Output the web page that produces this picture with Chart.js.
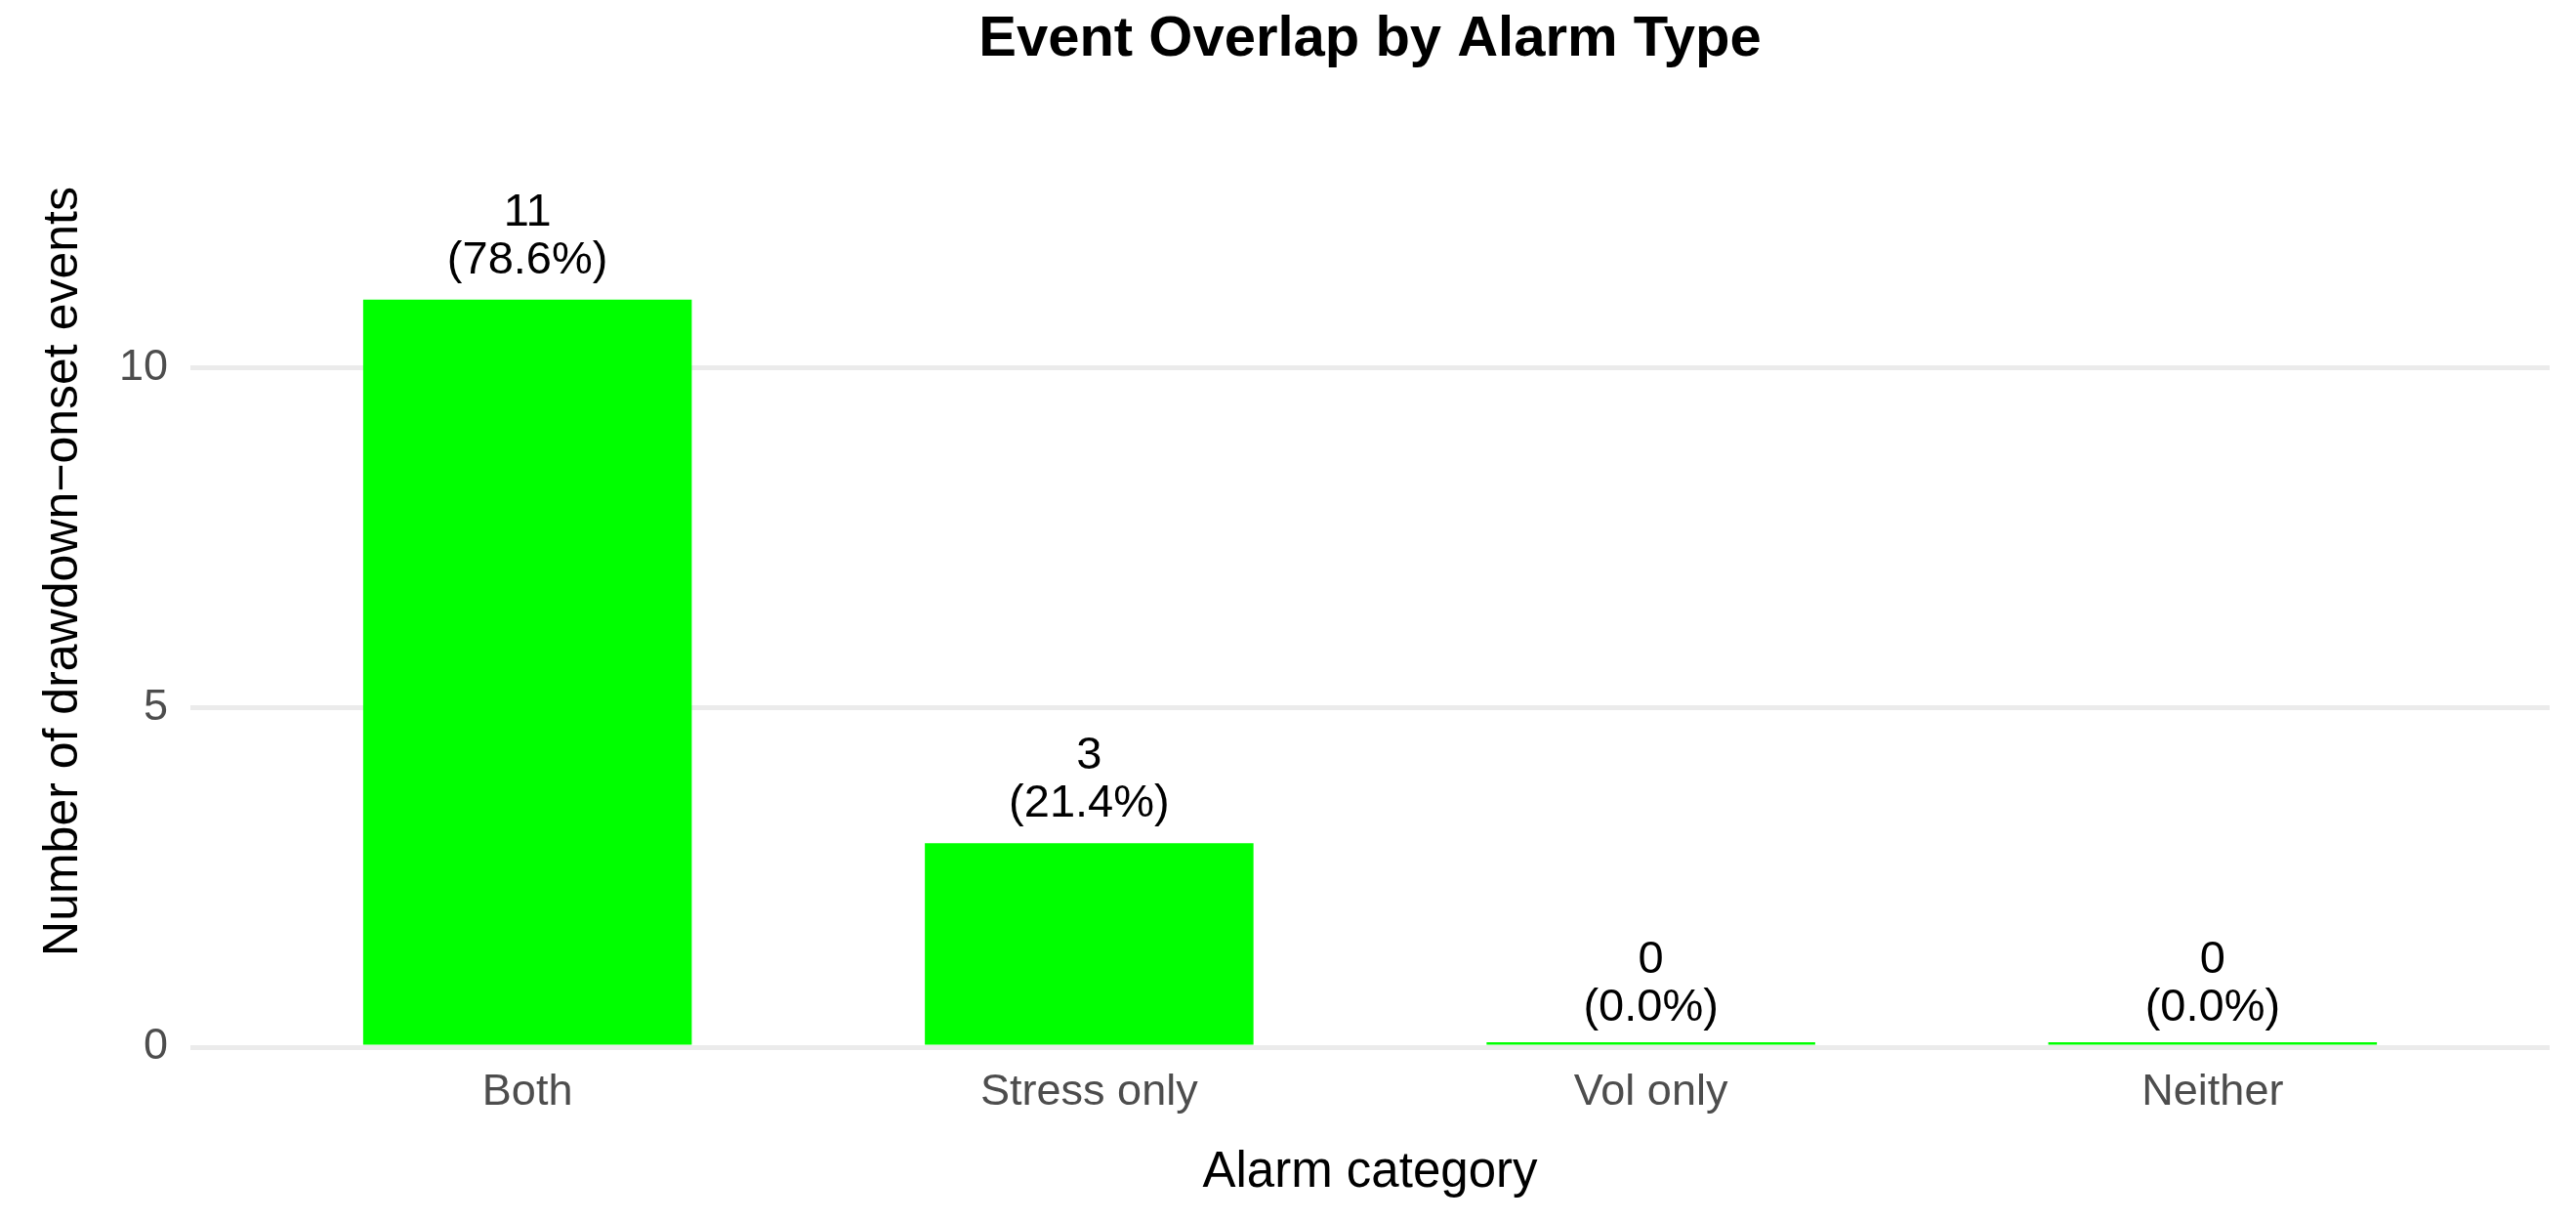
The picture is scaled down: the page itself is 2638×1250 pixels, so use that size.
<!DOCTYPE html>
<html>
<head>
<meta charset="utf-8">
<script src="https://cdn.jsdelivr.net/npm/chart.js@4.4.1/dist/chart.umd.min.js"></script>
<style>
  html, body { margin: 0; padding: 0; background: #ffffff; }
  #wrap { width: 2638px; height: 1250px; }
</style>
</head>
<body>
<div id="wrap"><canvas id="c" width="2638" height="1250"></canvas></div>
<script>
const categories = ["Both", "Stress only", "Vol only", "Neither"];
const counts = [11, 3, 0, 0];
const pctLabels = ["78.6%", "21.4%", "0.0%", "0.0%"];
const yTicks = [0, 5, 10];
const chartTitle = "Event Overlap by Alarm Type";
const xTitle = "Alarm category";
const yTitle = "Number of drawdown\u2212onset events";

const FONT = "'Liberation Sans', Arial, Helvetica, sans-serif";

const barLabels = {
  id: 'barLabels',
  afterDatasetsDraw(chart) {
    const ctx = chart.ctx;
    const meta = chart.getDatasetMeta(0);
    const yScale = chart.scales.y;
    ctx.save();
    ctx.fillStyle = '#000000';
    ctx.font = '47px ' + FONT;
    ctx.textAlign = 'center';
    ctx.textBaseline = 'alphabetic';
    meta.data.forEach((el, i) => {
      const top = yScale.getPixelForValue(counts[i]);
      ctx.fillText('(' + pctLabels[i] + ')', el.x, top - 27);
      ctx.fillText(String(counts[i]), el.x, top - 76);
    });
    ctx.restore();
  }
};

new Chart(document.getElementById('c'), {
  type: 'bar',
  data: {
    datasets: [{
      data: counts.map((v, i) => ({ x: i, y: v })),
      backgroundColor: '#00FF00',
      borderWidth: 0,
      minBarLength: 5,
      categoryPercentage: 1.0,
      barPercentage: 0.585
    }]
  },
  options: {
    responsive: false,
    animation: false,
    devicePixelRatio: 1,
    layout: { padding: { left: 0, right: 27, top: 0, bottom: 0 } },
    plugins: {
      legend: { display: false },
      tooltip: { enabled: false },
      title: {
        display: true,
        text: chartTitle,
        fullSize: false,
        color: '#000000',
        font: { family: FONT, size: 58, weight: 'bold', lineHeight: 1.2 },
        padding: { top: 6, bottom: 22.4 }
      }
    },
    scales: {
      x: {
        type: 'linear',
        min: -0.6,
        max: 3.6,
        offset: false,
        grid: { display: false, drawTicks: false, offset: false },
        border: { display: false },
        afterBuildTicks(scale) {
          scale.ticks = categories.map((_, i) => ({ value: i }));
        },
        afterFit(scale) { scale.height = 178; },
        ticks: {
          autoSkip: false,
          maxRotation: 0,
          padding: 20,
          color: '#4D4D4D',
          font: { family: FONT, size: 45 },
          callback: (v) => categories[v]
        },
        title: {
          display: true,
          text: xTitle,
          color: '#000000',
          font: { family: FONT, size: 51, lineHeight: 1.2 },
          padding: { top: 0, bottom: 18 }
        }
      },
      y: {
        type: 'linear',
        min: 0,
        max: 14,
        grid: { color: '#EBEBEB', lineWidth: 5, drawTicks: false },
        border: { display: false },
        afterBuildTicks(scale) {
          scale.ticks = yTicks.map(v => ({ value: v }));
        },
        afterFit(scale) { scale.width = 195; },
        ticks: {
          padding: 23,
          color: '#4D4D4D',
          font: { family: FONT, size: 45 }
        },
        title: {
          display: true,
          text: yTitle,
          color: '#000000',
          font: { family: FONT, size: 50, lineHeight: 1.2 },
          padding: { top: 35, bottom: 0 }
        }
      }
    }
  },
  plugins: [barLabels]
});
</script>
</body>
</html>
